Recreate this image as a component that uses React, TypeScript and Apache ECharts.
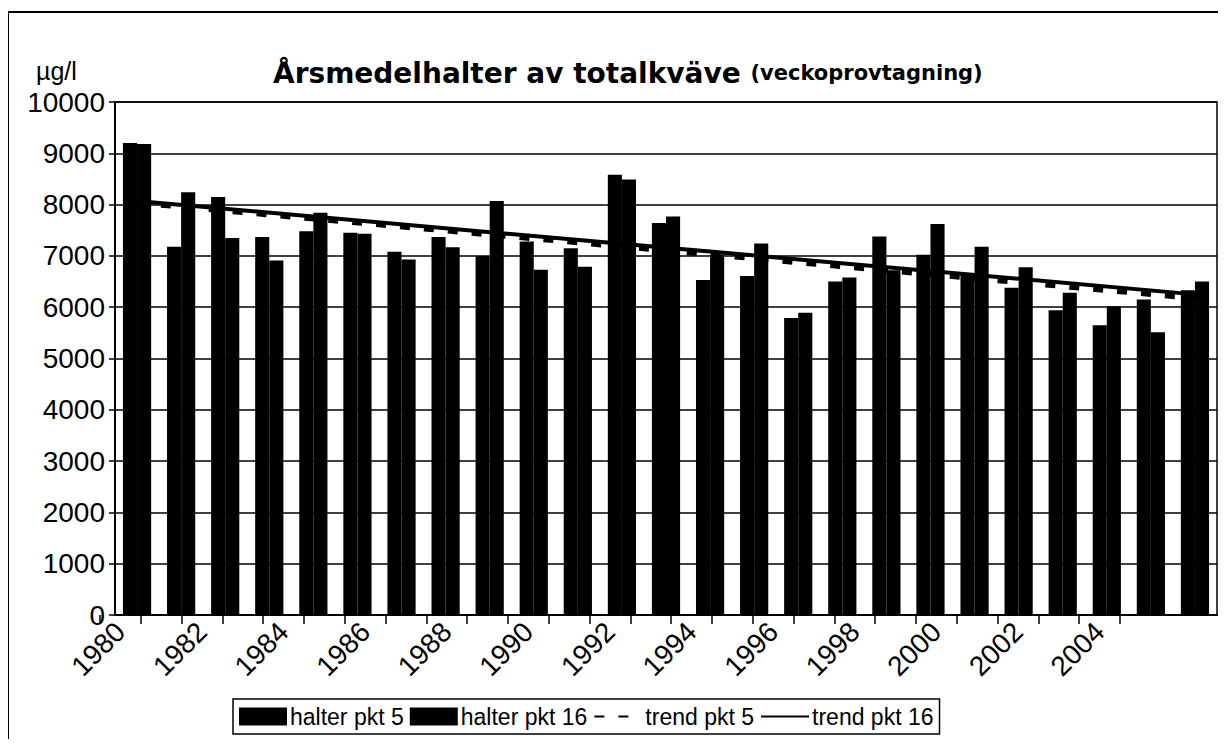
import React, { useEffect, useRef } from "react";
import * as echarts from "echarts";

const years = [
  "1980", "1981", "1982", "1983", "1984", "1985", "1986", "1987", "1988", "1989",
  "1990", "1991", "1992", "1993", "1994", "1995", "1996", "1997", "1998", "1999",
  "2000", "2001", "2002", "2003", "2004",
];
const halterPkt5 = [
  9200, 7180, 8150, 7370, 7480, 7450, 7080, 7370, 7000, 7280,
  7150, 8580, 7640, 6530, 6610, 5790, 6500, 7380, 7020, 6640,
  6380, 5940, 5650, 6150, 6330,
];
const halterPkt16 = [
  9180, 8240, 7350, 6910, 7840, 7430, 6930, 7170, 8070, 6730,
  6790, 8490, 7770, 7020, 7240, 5890, 6580, 6720, 7620, 7180,
  6780, 6280, 6020, 5510, 6500,
];
// trend lines: straight lines between the first and last year
const trendPkt5Start = 8030;
const trendPkt5End = 6170;
const trendPkt16Start = 8070;
const trendPkt16End = 6250;
const yTicks = { min: 0, max: 10000, interval: 1000 };

const seriesNames = ["halter pkt 5", "halter pkt 16", "trend pkt 5", "trend pkt 16"];

function endpoints(a: number, b: number): (number | null)[] {
  return years.map((_, i) => (i === 0 ? a : i === years.length - 1 ? b : null));
}

const FONT = "'Liberation Sans', Arial, Helvetica, sans-serif";
const TITLE_FONT = "'DejaVu Sans', 'Liberation Sans', sans-serif";

export default function App() {
  const ref = useRef<HTMLDivElement>(null);
  useEffect(() => {
    if (!ref.current) return;
    const chart = echarts.init(ref.current, undefined, { renderer: "svg" });
    chart.setOption({
      animation: false,
      backgroundColor: "#ffffff",
      textStyle: { fontFamily: FONT, color: "#000" },
      title: {
        text: "{a|Årsmedelhalter av totalkväve }{b|(veckoprovtagning)}",
        left: 268,
        top: 54,
        textStyle: {
          rich: {
            a: { fontFamily: TITLE_FONT, fontSize: 28, fontWeight: "bold", color: "#000" },
            b: { fontFamily: TITLE_FONT, fontSize: 21, fontWeight: "bold", color: "#000" },
          },
        },
      },
      graphic: [
        {
          type: "rect",
          shape: { x: 8, y: 12, width: 1212, height: 733 },
          style: { fill: "none", stroke: "#000", lineWidth: 2 },
          silent: true,
        },
        {
          type: "text",
          x: 36,
          y: 58,
          style: { text: "µg/l", font: `25px ${FONT}`, fill: "#000" },
        },
      ],
      legend: {
        data: [
          { name: seriesNames[0], icon: "rect" },
          { name: seriesNames[1], icon: "rect" },
          { name: seriesNames[2], itemStyle: { opacity: 0 } },
          { name: seriesNames[3], itemStyle: { opacity: 0 } },
        ],
        left: 233,
        top: 699,
        orient: "horizontal",
        padding: [6, 6, 6, 6],
        itemGap: 6,
        itemWidth: 48,
        itemHeight: 18,
        borderColor: "#000",
        borderWidth: 1.5,
        textStyle: { fontFamily: FONT, fontSize: 23, color: "#000", padding: [0, 0, 0, -2] },
      },
      grid: [
        {
          left: 115,
          right: 9,
          top: 102,
          bottom: 132,
          show: true,
          borderColor: "#000",
          borderWidth: 1.5,
          backgroundColor: "transparent",
        },
        {
          left: 100,
          right: 106,
          top: 102,
          bottom: 132,
          show: false,
        },
      ],
      xAxis: [
        {
          type: "category",
          gridIndex: 0,
          data: years,
          axisLine: { lineStyle: { color: "#000", width: 2 } },
          axisTick: { show: false },
          axisLabel: { show: false },
        },
        {
          type: "category",
          gridIndex: 1,
          data: years,
          axisLine: { show: false },
          axisTick: { show: true, interval: 0, length: 9, lineStyle: { color: "#000", width: 1.5 } },
          axisLabel: {
            interval: 1,
            rotate: 45,
            fontSize: 28,
            color: "#000",
            fontFamily: FONT,
            margin: 12,
          },
        },
      ],
      yAxis: [
        {
          type: "value",
          gridIndex: 0,
          min: yTicks.min,
          max: yTicks.max,
          interval: yTicks.interval,
          axisLine: { show: true, lineStyle: { color: "#000", width: 2 } },
          axisTick: { show: true, length: 6, lineStyle: { color: "#000", width: 1.5 } },
          splitLine: { show: true, lineStyle: { color: "#000", width: 1.5 } },
          axisLabel: {
            fontSize: 28,
            color: "#000",
            fontFamily: FONT,
            margin: 10,
            formatter: (v: number) => String(v),
          },
        },
        {
          type: "value",
          gridIndex: 1,
          min: yTicks.min,
          max: yTicks.max,
          interval: yTicks.interval,
          show: false,
        },
      ],
      series: [
        {
          name: seriesNames[0],
          type: "bar",
          xAxisIndex: 0,
          yAxisIndex: 0,
          data: halterPkt5,
          barGap: "0%",
          barCategoryGap: "36%",
          itemStyle: { color: "#000" },
          z: 2,
        },
        {
          name: seriesNames[1],
          type: "bar",
          xAxisIndex: 0,
          yAxisIndex: 0,
          data: halterPkt16,
          barGap: "0%",
          barCategoryGap: "36%",
          itemStyle: { color: "#000" },
          z: 2,
        },
        {
          name: seriesNames[2],
          type: "line",
          xAxisIndex: 0,
          yAxisIndex: 0,
          data: endpoints(trendPkt5Start, trendPkt5End),
          connectNulls: true,
          symbol: "none",
          lineStyle: { color: "#000", width: 5, type: [10, 14] },
          itemStyle: { color: "#000" },
          z: 3,
        },
        {
          name: seriesNames[3],
          type: "line",
          xAxisIndex: 0,
          yAxisIndex: 0,
          data: endpoints(trendPkt16Start, trendPkt16End),
          connectNulls: true,
          symbol: "none",
          lineStyle: { color: "#000", width: 4, type: "solid" },
          itemStyle: { color: "#000" },
          z: 4,
        },
      ],
    });
    return () => chart.dispose();
  }, []);
  return <div ref={ref} style={{ width: 1226, height: 747, margin: -8 }} />;
}
